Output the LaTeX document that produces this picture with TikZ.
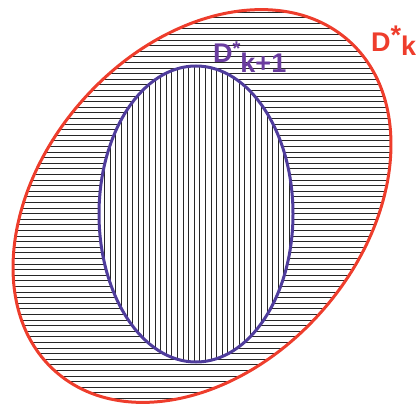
\documentclass[tikz,border=0pt]{standalone}
\usepackage{fontspec}
\setmainfont{Liberation Sans}
\usepackage{tikz}
\usetikzlibrary{positioning}
\definecolor{setred}{HTML}{EE3D2C}
\definecolor{setpurple}{HTML}{4F3C9C}
\definecolor{labpurple}{HTML}{6A3C9F}
\tikzset{
    outerset/.style={draw=setred,line width=3pt},
    innerset/.style={draw=setpurple,line width=3pt},
    hatch/.style={draw=black!85,line width=0.7pt},
    setlab/.style={font=\fontsize{27}{27}\selectfont\bfseries,inner sep=0pt,anchor=base west}
}
\begin{document}
\begin{tikzpicture}[x=1pt,y=1pt]
\useasboundingbox (0,0) rectangle (417,405);
% horizontal hatching of the outer set
\begin{scope}
    \clip[rotate around={48.5:(202,199)}] (202,199) ellipse [x radius=221,y radius=159.5];
    \foreach \y in {1,6.6,...,405}{
        \draw[hatch] (0,\y) -- (417,\y);
    }
\end{scope}
% vertical hatching of the inner set
\fill[white] (196,191) ellipse [x radius=97,y radius=148];
\begin{scope}
    \clip (196,191) ellipse [x radius=97,y radius=148];
    \foreach \x in {99,104.6,...,300}{
        \draw[hatch] (\x,0) -- (\x,405);
    }
\end{scope}
\draw[outerset,rotate around={48.5:(202,199)}] (202,199) ellipse [x radius=221,y radius=159.5];
\draw[innerset] (196,191) ellipse [x radius=97,y radius=148];
% labels
\node[setlab,text=setred] (dk) at (371,353) {D\raisebox{7pt}{*}\raisebox{-4pt}{k}};
\node[setlab,text=labpurple] (dk1) at (213,342) {D\raisebox{7pt}{\fontsize{20}{20}\selectfont*}\raisebox{-10pt}{k+1}};
\end{tikzpicture}
\end{document}
